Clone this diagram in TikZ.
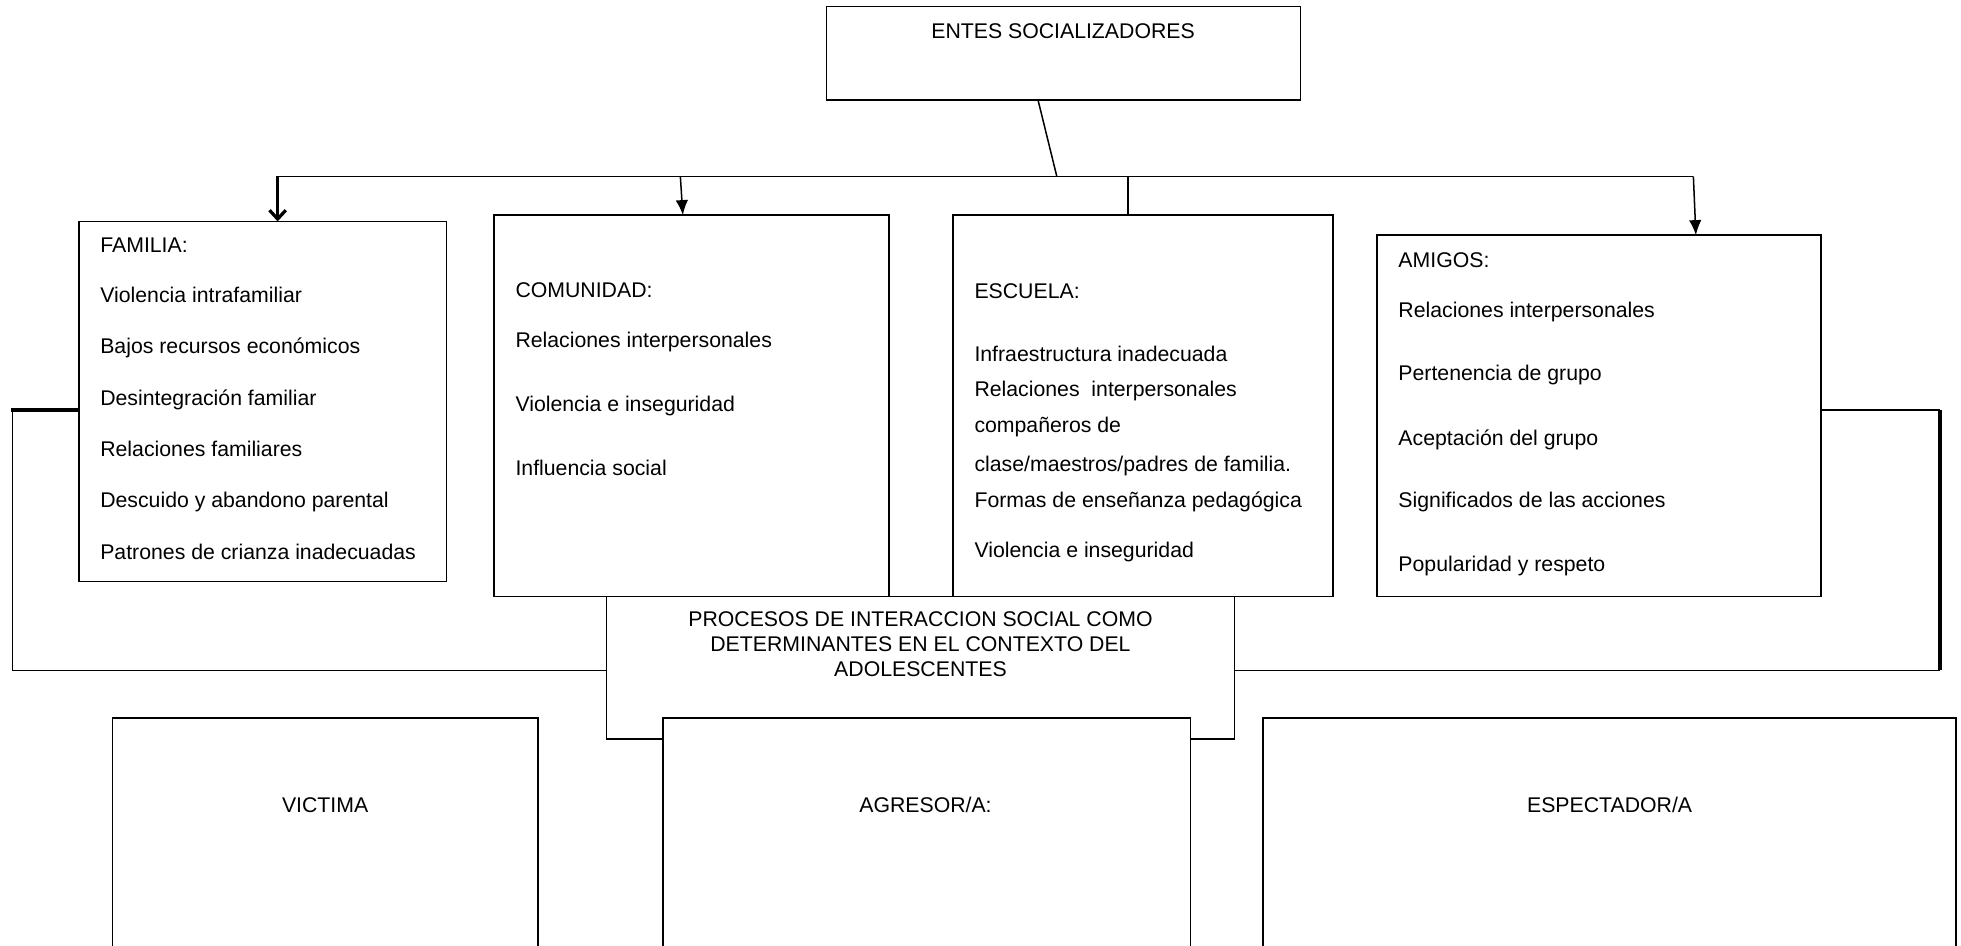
\documentclass[tikz,border=0pt]{standalone}
\usepackage{fontspec}
\setmainfont{Liberation Sans}
\usetikzlibrary{arrows.meta}

\tikzset{
  caja/.style={draw, line width=1.2pt, inner sep=0pt, outer sep=0pt, anchor=north west},
  texto/.style={inner sep=0pt, font=\fontsize{17pt}{20pt}\selectfont},
  flecha/.style={line width=1.2pt, -{Latex[length=12pt,width=10pt]}}
}

\begin{document}
\begin{tikzpicture}[x=1pt,y=-1pt]
  \useasboundingbox (0,0) rectangle (1568,756);

  % Top box
  \node[caja, minimum width=379pt, minimum height=75pt] (entes) at (661,5) {};
  \node[texto, anchor=base] (entes-t) at (850,31) {ENTES SOCIALIZADORES};

  % The four boxes
  \node[caja, minimum width=294pt, minimum height=288pt] (familia) at (63,177) {};
  \node[caja, minimum width=316pt, minimum height=305pt] (comunidad) at (395,172) {};
  \node[caja, minimum width=304pt, minimum height=305pt] (escuela) at (762,172) {};
  \node[caja, minimum width=355pt, minimum height=289pt] (amigos) at (1101,188) {};

  \foreach \y/\t [count=\i] in {202/FAMILIA:, 242/Violencia intrafamiliar,
      283/Bajos recursos económicos, 324/Desintegración familiar,
      365/Relaciones familiares, 406/Descuido y abandono parental,
      447/Patrones de crianza inadecuadas}
    \node[texto, anchor=base west] (fam-\i) at (80,\y) {\t};

  \foreach \y/\t [count=\i] in {238/COMUNIDAD:, 278/Relaciones interpersonales,
      329/Violencia e inseguridad, 380/Influencia social}
    \node[texto, anchor=base west] (com-\i) at (412,\y) {\t};

  \foreach \y/\t [count=\i] in {239/ESCUELA:, 289/Infraestructura inadecuada,
      317/Relaciones\ \ interpersonales, 346/compañeros de,
      377/{clase/maestros/padres de familia.}, 406/Formas de enseñanza pedagógica,
      446/Violencia e inseguridad}
    \node[texto, anchor=base west] (esc-\i) at (779,\y) {\t};

  \foreach \y/\t [count=\i] in {214/AMIGOS:, 254/Relaciones interpersonales,
      304/Pertenencia de grupo, 356/Aceptación del grupo,
      406/Significados de las acciones, 457/Popularidad y respeto}
    \node[texto, anchor=base west] (ami-\i) at (1118,\y) {\t};

  % Bus and arrows
  \coordinate (bus) at (845,141);
  \coordinate (busL) at (222,141);
  \coordinate (busR) at (1354,141);
  \coordinate (busC) at (544,141);
  \coordinate (busE) at (902,141);
  \draw[line width=1.2pt] ([xshift=-20.5pt]entes.south) -- (bus);
  \draw[line width=1.2pt] (busL) -- (busR);
  \draw[line width=2.6pt, -{Straight Barb[length=7pt,width=13pt]}] (busL) -- (busL |- familia.north);
  \draw[flecha] (busC) -- ([xshift=-7pt]comunidad.north);
  \draw[line width=1.2pt] (busE) -- (busE |- escuela.north);
  \draw[flecha] (busR) -- ([xshift=77.5pt]amigos.north);

  % Middle box
  \node[caja, minimum width=502pt, minimum height=114pt] (procesos) at (485,477) {};
  \node[texto, align=center, anchor=north] (procesos-t) at (736,489)
    {PROCESOS DE INTERACCION SOCIAL COMO\\DETERMINANTES EN EL CONTEXTO DEL\\ADOLESCENTES};

  % Side connectors
  \coordinate (izq) at (10,328);
  \coordinate (der) at (1551,328);
  \draw[line width=3pt] (familia.west |- izq) -- ([xshift=-1.5pt]izq);
  \draw[line width=1.2pt] (izq) -- (izq |- 0,536) -- (procesos.west |- 0,536);
  \draw[line width=1.2pt] (amigos.east |- der) -- (der);
  \draw[line width=3.5pt] (der) -- (der |- 0,536);
  \draw[line width=1.2pt] (der |- 0,536) -- (procesos.east |- 0,536);

  % Bottom boxes
  \node[caja, fill=white, minimum width=340pt, minimum height=220pt] (victima) at (90,574) {};
  \node[caja, fill=white, minimum width=422pt, minimum height=220pt] (agresor) at (530,574) {};
  \node[caja, fill=white, minimum width=554pt, minimum height=220pt] (espectador) at (1010,574) {};
  \node[texto, anchor=base] (victima-t) at (260,650) {VICTIMA};
  \node[texto, anchor=base] (agresor-t) at (740,650) {AGRESOR/A:};
  \node[texto, anchor=base] (espectador-t) at (1287,650) {ESPECTADOR/A};

\end{tikzpicture}
\end{document}
